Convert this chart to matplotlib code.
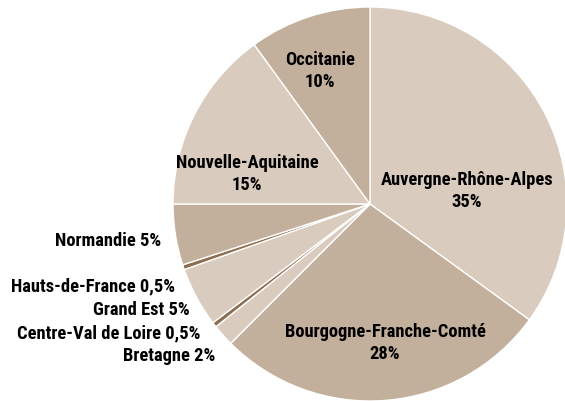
import matplotlib.pyplot as plt

# Data (shares, labels as printed)
regions = ['Auvergne-Rhône-Alpes', 'Bourgogne-Franche-Comté', 'Bretagne',
           'Centre-Val de Loire', 'Grand Est', 'Hauts-de-France',
           'Normandie', 'Nouvelle-Aquitaine', 'Occitanie']
shares = [35, 27.5, 1.8, 0.4, 4.9, 0.4, 5, 15, 10]
share_labels = ['35%', '28%', '2%', '0,5%', '5%', '0,5%', '5%', '15%', '10%']

light = '#d9cbbd'
dark = '#c2af9c'
brown = '#8d6e4f'
colors = [light, dark, light, brown, light, brown, dark, light, dark]

plt.rcParams['font.family'] = ['Roboto Condensed', 'DejaVu Sans']

fig = plt.figure(figsize=(5.65, 4.02), dpi=100)
ax = fig.add_axes([0, 0, 1, 1])
H = 402

ax.pie(shares, colors=colors, startangle=90, counterclock=False,
       center=(370, H - 205), radius=197,
       wedgeprops=dict(edgecolor='white', linewidth=1.0), frame=True)

ax.set_xlim(0, 565)
ax.set_ylim(0, H)
ax.set_aspect('equal')
ax.axis('off')

# inside labels (two lines), positions in pixels
inside = {0: (467, 191), 1: (385, 343), 7: (247, 174), 8: (320, 71)}
for i, (x, y) in inside.items():
    ax.text(x, H - y, f'{regions[i]}\n{share_labels[i]}', ha='center', va='center',
            fontsize=13.3, fontweight='bold', linespacing=1.35)

# outside labels, right aligned
outside = {6: (161, 241), 5: (175, 286), 4: (190, 310), 3: (200, 333), 2: (215, 356)}
for i, (x, y) in outside.items():
    ax.text(x, H - y, f'{regions[i]} {share_labels[i]}', ha='right', va='center',
            fontsize=13.3, fontweight='bold')

fig.savefig('out.png', dpi=100)
